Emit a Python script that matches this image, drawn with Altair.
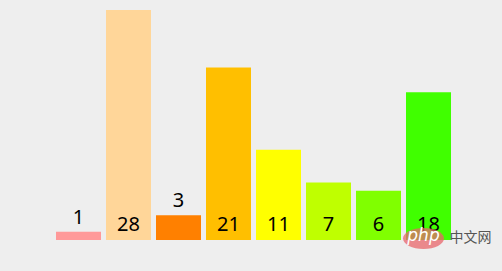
import altair as alt
import pandas as pd

categories = ["a", "b", "c", "d", "e", "f", "g", "h"]
values = [1, 28, 3, 21, 11, 7, 6, 18]
colors = ["#ff9999", "#ffd699", "#ff8000", "#ffbf00", "#ffff00", "#bfff00", "#80ff00", "#40ff00"]

df = pd.DataFrame({"cat": categories, "value": values, "color": colors})

x = alt.X("cat:N", sort=categories, axis=None,
          scale=alt.Scale(paddingInner=0.1, paddingOuter=0.05))
yscale = alt.Scale(domain=[0, 28], nice=False, zero=True)

bars = alt.Chart(df).mark_bar(cornerRadius=0).encode(
    x=x,
    y=alt.Y("value:Q", scale=yscale, axis=None),
    color=alt.Color("color:N", scale=None),
)

txt_style = dict(fontSize=20, font="Noto Sans", color="#000000", baseline="alphabetic", align="center")

inside = alt.Chart(df).transform_filter("datum.value >= 5").mark_text(dy=-9, **txt_style).encode(
    x=x,
    y=alt.Y("zero:Q", scale=yscale, axis=None),
    text="value:Q",
).transform_calculate(zero="0")

above = alt.Chart(df).transform_filter("datum.value < 5").mark_text(dy=-8, **txt_style).encode(
    x=x,
    y=alt.Y("value:Q", scale=yscale, axis=None),
    text="value:Q",
)

ellipse = alt.Chart(pd.DataFrame({"k": [0]})).mark_point(
    shape="M-1,0 A1,0.51 0 1,0 1,0 A1,0.51 0 1,0 -1,0 Z",
    filled=True, fill="#e8656b", opacity=0.75, strokeWidth=0, size=1681,
).encode(x=alt.value(370), y=alt.value(228.5))

php = alt.Chart(pd.DataFrame({"t": ["php"]})).mark_text(
    font="DejaVu Sans", fontSize=17, fontStyle="italic", color="#ffffff", align="center", baseline="middle"
).encode(x=alt.value(370), y=alt.value(226), text="t:N")

cn = alt.Chart(pd.DataFrame({"t": ["中文网"]})).mark_text(
    font="Noto Sans CJK SC", fontSize=14, color="#555555", align="center", baseline="middle"
).encode(x=alt.value(417), y=alt.value(228), text="t:N")

chart = alt.layer(bars, inside, above, ellipse, php, cn).properties(
    width=400, height=230,
    background="#eeeeee",
    padding={"left": 53.5, "top": 10, "right": 48.5, "bottom": 31},
    autosize=alt.AutoSizeParams(type="none"),
).configure_view(stroke=None)

chart.save("out.html", embed_options={"renderer": "svg", "actions": False})
